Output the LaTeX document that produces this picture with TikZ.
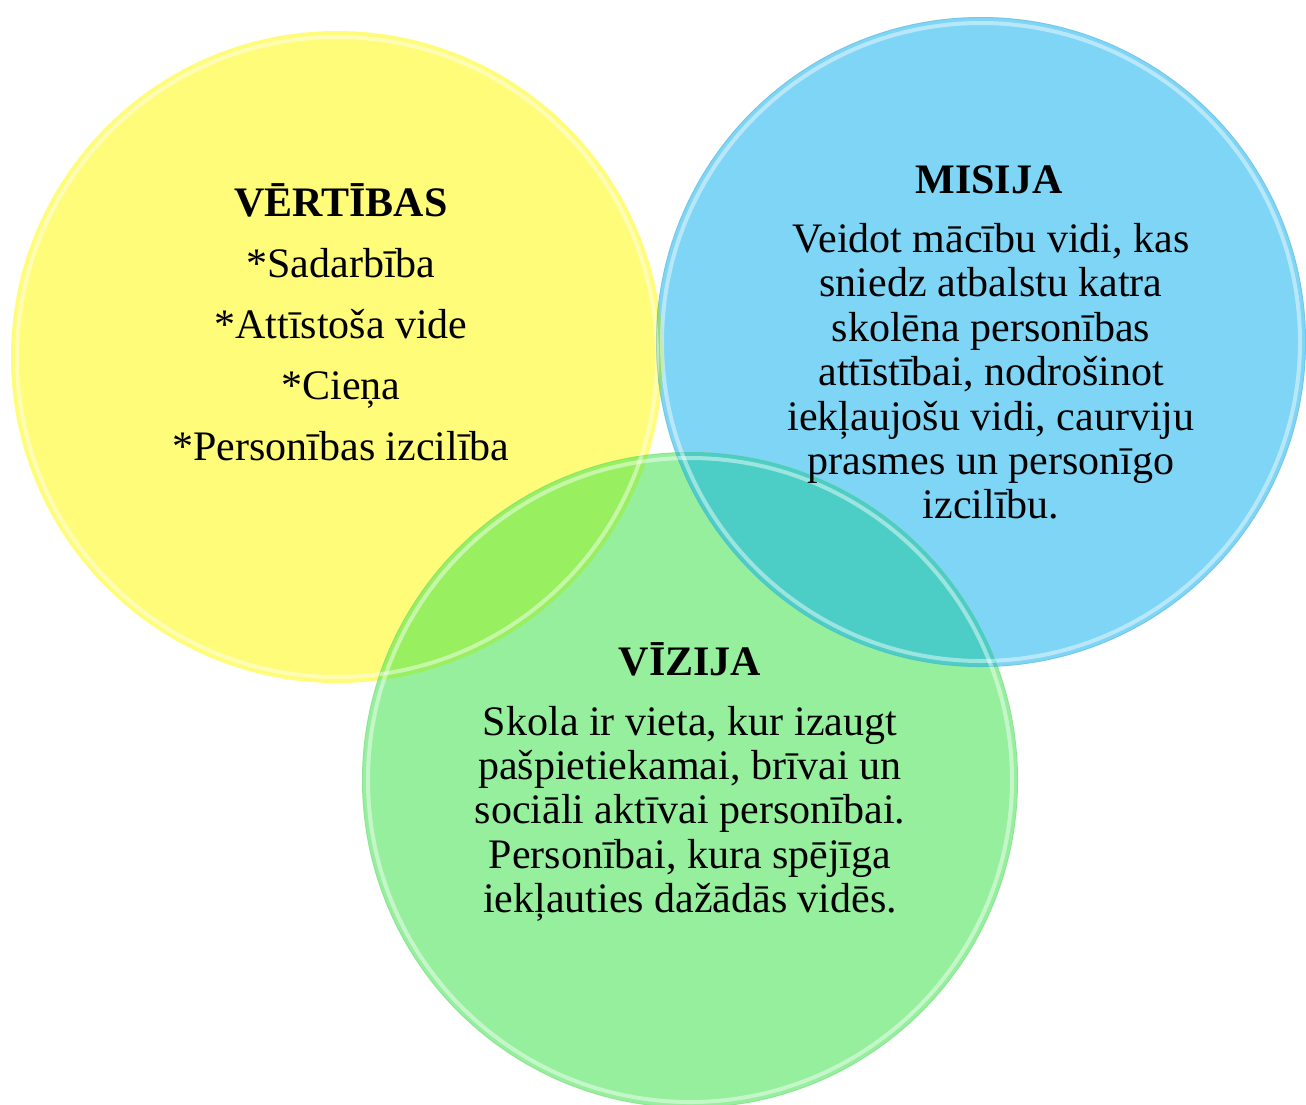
\documentclass[tikz,border=0pt]{standalone}
\usepackage{fontspec}
\setmainfont{Liberation Serif}
\definecolor{cyel}{RGB}{255,252,122}
\definecolor{cblu}{RGB}{126,213,245}
\definecolor{cgrn}{RGB}{149,239,157}
\definecolor{cyg}{RGB}{152,240,96}
\definecolor{cbg}{RGB}{76,206,198}
\definecolor{cyb}{RGB}{150,220,120}
\tikzset{
  txt/.style={anchor=base, inner sep=0pt, font=\fontsize{42}{44}\selectfont},
  ttl/.style={anchor=base, inner sep=0pt, font=\fontsize{42}{44}\selectfont\bfseries},
  rim/.style={draw=white, line width=4pt, draw opacity=0.45},
  edge/.style={line width=0.8pt}
}
\begin{document}
\begin{tikzpicture}[x=1pt,y=-1pt]
\useasboundingbox (0,0) rectangle (1306,1104);
\coordinate (cy) at (337,357);
\coordinate (cb) at (981,342);
\coordinate (cg) at (690,780);
% base circles
\fill[cyel] (cy) circle[radius=326pt];
\fill[cblu] (cb) circle[radius=325pt];
\fill[cgrn] (cg) circle[radius=328pt];
% overlaps
\begin{scope}
  \clip (cy) circle[radius=326pt];
  \fill[cyg] (cg) circle[radius=328pt];
  \fill[cyb] (cb) circle[radius=325pt];
\end{scope}
\begin{scope}
  \clip (cb) circle[radius=325pt];
  \fill[cbg] (cg) circle[radius=328pt];
\end{scope}
% glassy rims
\draw[rim] (cy) circle[radius=320pt];
\draw[rim] (cb) circle[radius=319pt];
\draw[rim] (cg) circle[radius=322pt];
\draw[edge, draw=cblu!80!black, draw opacity=0.35] (cb) circle[radius=324.5pt];
\draw[edge, draw=cgrn!80!black, draw opacity=0.25] (cg) circle[radius=327.5pt];
% VĒRTĪBAS
\node[ttl] (v0) at (341,216) {VĒRTĪBAS};
\node[txt] (v1) at (341,277) {*Sadarbība};
\node[txt] (v2) at (341,338) {*Attīstoša vide};
\node[txt] (v3) at (341,399) {*Cieņa};
\node[txt] (v4) at (341,460) {*Personības izcilība};
% MISIJA
\node[ttl] (m0) at (989,193) {MISIJA};
\node[txt] (m1) at (991,252) {Veidot mācību vidi, kas};
\node[txt] (m2) at (991,296) {sniedz atbalstu katra};
\node[txt] (m3) at (991,341) {skolēna personības};
\node[txt] (m4) at (991,385) {attīstībai, nodrošinot};
\node[txt] (m5) at (991,430) {iekļaujošu vidi, caurviju};
\node[txt] (m6) at (991,474) {prasmes un personīgo};
\node[txt] (m7) at (991,518) {izcilību.};
% VĪZIJA
\node[ttl] (z0) at (690,675) {VĪZIJA};
\node[txt] (z1) at (690,735) {Skola ir vieta, kur izaugt};
\node[txt] (z2) at (690,779) {pašpietiekamai, brīvai un};
\node[txt] (z3) at (690,823) {sociāli aktīvai personībai.};
\node[txt] (z4) at (690,868) {Personībai, kura spējīga};
\node[txt] (z5) at (690,912) {iekļauties dažādās vidēs.};
\end{tikzpicture}
\end{document}
